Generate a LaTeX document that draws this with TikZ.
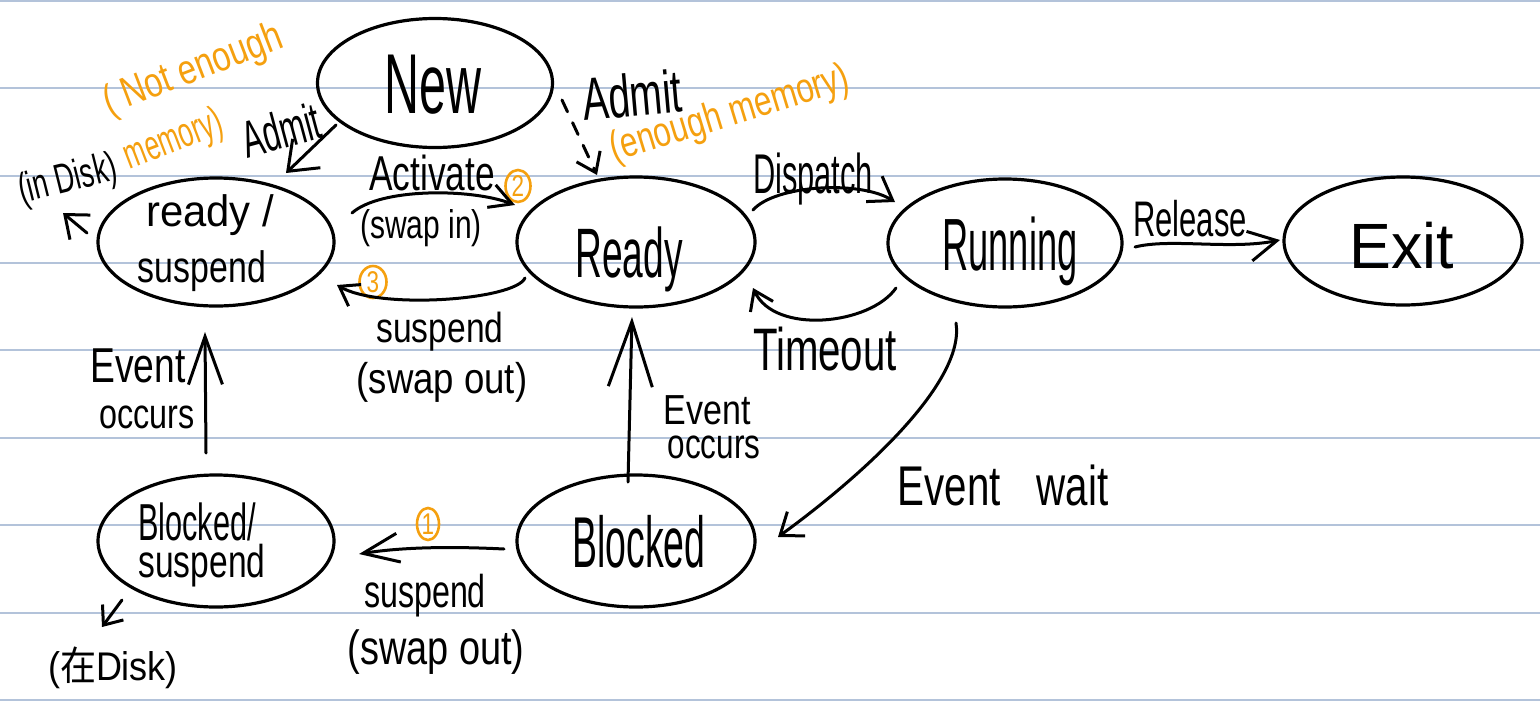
\documentclass[tikz,border=0pt]{standalone}
\usepackage{fontspec}
\usepackage{graphicx}
\setmainfont{Liberation Sans}
\newfontfamily\cjk{Noto Sans CJK SC}
\usetikzlibrary{shapes.geometric,arrows.meta,calc}
\definecolor{rulecol}{HTML}{B3C3DA}
\definecolor{hlorange}{HTML}{F5A00F}
\newcommand{\hwt}[3]{\fontsize{#1}{#1}\selectfont\scalebox{#2}[1]{#3}}
\begin{document}
\begin{tikzpicture}[x=1pt,y=-1pt,
  state/.style={draw, ellipse, line width=3.2pt, inner sep=0pt},
  lbl/.style={inner sep=0pt, anchor=base},
  clbl/.style={inner sep=0pt, anchor=center},
  olbl/.style={inner sep=0pt, anchor=center, text=hlorange},
  num/.style={draw=hlorange, text=hlorange, ellipse, line width=2.6pt, inner sep=0pt},
  conn/.style={line width=3pt, line cap=round, line join=round},
  hd/.style 2 args={-{Straight Barb[length=#1,width=#2]}},
  ]
\fill[white] (0,0) rectangle (1540,702);
\useasboundingbox (0,0) rectangle (1540,702);
\foreach \yy in {1,88,176,263,350,438,525,613,700}
  \draw[rulecol, line width=2pt] (0,\yy) -- (1540,\yy);

% states
\node[state, minimum width=235pt, minimum height=129pt] (new) at (435,83) {};
\node[state, minimum width=236pt, minimum height=128pt] (rs) at (216,242) {};
\node[state, minimum width=238pt, minimum height=130pt] (rd) at (636,242) {};
\node[state, minimum width=234pt, minimum height=128pt] (run) at (1005,243) {};
\node[state, minimum width=238pt, minimum height=128pt] (ex) at (1403,241) {};
\node[state, minimum width=236pt, minimum height=132pt] (bs) at (216,541) {};
\node[state, minimum width=238pt, minimum height=132pt] (bl) at (636,541) {};

% state texts
\node[lbl] (tnew) at (433,113) {\hwt{85}{0.57}{New}};
\node[lbl] (trs1) at (210,226) {\hwt{44}{0.95}{ready /}};
\node[lbl] (trs2) at (202,282) {\hwt{44}{0.77}{suspend}};
\node[lbl] (trd) at (629,277) {\hwt{70}{0.53}{Ready}};
\node[lbl] (trun) at (1010,270) {\hwt{74}{0.49}{Running}};
\node[lbl] (tex) at (1402,268) {\hwt{64}{0.98}{Exit}};
\node[lbl] (tbl) at (639,567) {\hwt{72}{0.52}{Blocked}};
\node[lbl] (tbs1) at (197,540) {\hwt{52}{0.59}{Blocked/}};
\node[lbl] (tbs2) at (202,577) {\hwt{46}{0.73}{suspend}};

% labels
\node[clbl, rotate=15] (tadm1) at (281,130) {\hwt{52}{0.6}{Admit}};
\node[olbl, rotate=21, align=left, font=\fontsize{42}{58}\selectfont] (tnot) at (204,98)
  {\scalebox{0.78}[1]{( Not enough}\\\scalebox{0.62}[1]{memory)}};
\node[clbl, rotate=14] (indisk) at (68,181) {\hwt{42}{0.65}{(in Disk)}};
\node[clbl, rotate=5] (tadm2) at (632,95) {\hwt{60}{0.65}{Admit}};
\node[olbl, rotate=17] (tenough) at (730,115) {\hwt{42}{0.75}{(enough memory)}};
\node[lbl] (tact) at (432,190) {\hwt{49}{0.72}{Activate}};
\node[lbl] (tswin) at (421,238) {\hwt{40}{0.75}{(swap in)}};
\node[lbl] (tsus1) at (440,342) {\hwt{42}{0.8}{suspend}};
\node[lbl] (tswout1) at (442,393) {\hwt{43}{0.85}{(swap out)}};
\node[lbl] (tdisp) at (813,193) {\hwt{56}{0.55}{Dispatch}};
\node[lbl] (trel) at (1190,236) {\hwt{50}{0.62}{Release}};
\node[lbl] (ttime) at (825,370) {\hwt{60}{0.67}{Timeout}};
\node[lbl] (tev1) at (707,424) {\hwt{42}{0.81}{Event}};
\node[lbl] (toc1) at (714,458) {\hwt{42}{0.75}{occurs}};
\node[lbl] (tevw) at (1003,505) {\hwt{56}{0.72}{Event\hspace{50pt}wait}};
\node[lbl] (tev2) at (138,382) {\hwt{49}{0.76}{Event}};
\node[lbl] (toc2) at (147,428) {\hwt{42}{0.77}{occurs}};
\node[lbl] (tsus2) at (425,607) {\hwt{46}{0.7}{suspend}};
\node[lbl] (tswout2) at (436,664) {\hwt{48}{0.79}{(swap out)}};
\node[clbl] (zdisk) at (113,668) {\hwt{40}{0.9}{({\cjk 在}Disk)}};

% orange step numbers
\node[num, minimum width=25pt, minimum height=32pt] (n2) at (518,186) {\hwt{30}{0.75}{2}};
\node[num, minimum width=27pt, minimum height=32pt] (n3) at (373,282) {\hwt{30}{0.75}{3}};
\node[num, minimum width=22pt, minimum height=32pt] (n1) at (428,524) {\hwt{30}{0.75}{1}};

% connectors
\draw[conn, hd={26pt}{40pt}] ($(new.center)+(-99,42)$) -- ($(rs.center)+(70,-69)$);
\draw[conn, dash pattern=on 13pt off 12pt, hd={18pt}{26pt}] ($(new.center)+(127,17)$) -- ($(rd.center)+(-39,-67)$);
\draw[conn, hd={22pt}{24pt}] ($(rs.center)+(136,-29)$) .. controls +(28,-25) and +(-45,-17) .. ($(rd.center)+(-121,-37)$);
\draw[conn, hd={18pt}{25pt}] ($(rd.center)+(-111,36)$) .. controls +(-10,22) and +(43,25) .. ($(rs.center)+(121,43)$);
\draw[conn, hd={22pt}{30pt}] ($(rd.center)+(117,-32)$) .. controls +(22,-25) and +(-35,-22) .. ($(run.center)+(-110,-41)$);
\draw[conn, hd={28pt}{30pt}] ($(run.center)+(130,4)$) .. controls +(35,-9) and +(-50,10) .. ($(ex.center)+(-123,-1)$);
\draw[conn, hd={18pt}{25pt}] ($(run.center)+(-109,45)$) .. controls +(-26,37) and +(22,47) .. ($(rd.center)+(117,46)$);
\draw[conn, hd={20pt}{30pt}] ($(run.center)+(-49,80)$) .. controls +(9,57) and +(92,-67) .. ($(bl.center)+(142,-4)$);
\draw[conn, hd={65pt}{44pt}] ($(bl.center)+(-8,-59)$) -- ($(rd.center)+(-4,75)$);
\draw[conn, hd={36pt}{29pt}] ($(bl.center)+(-132,8)$) .. controls +(-40,-2) and +(50,-8) .. ($(bs.center)+(143,13)$);
\draw[conn, hd={48pt}{34pt}] ($(bs.center)+(-10,-88)$) -- ($(rs.center)+(-11,90)$);
\draw[conn, hd={20pt}{32pt}] ($(rs.center)+(-129,-9)$) -- ($(indisk.center)+(-5,32)$);
\draw[conn, hd={16pt}{26pt}] ($(bs.center)+(-94,59)$) -- ($(zdisk.center)+(-11,-41)$);
\end{tikzpicture}
\end{document}
